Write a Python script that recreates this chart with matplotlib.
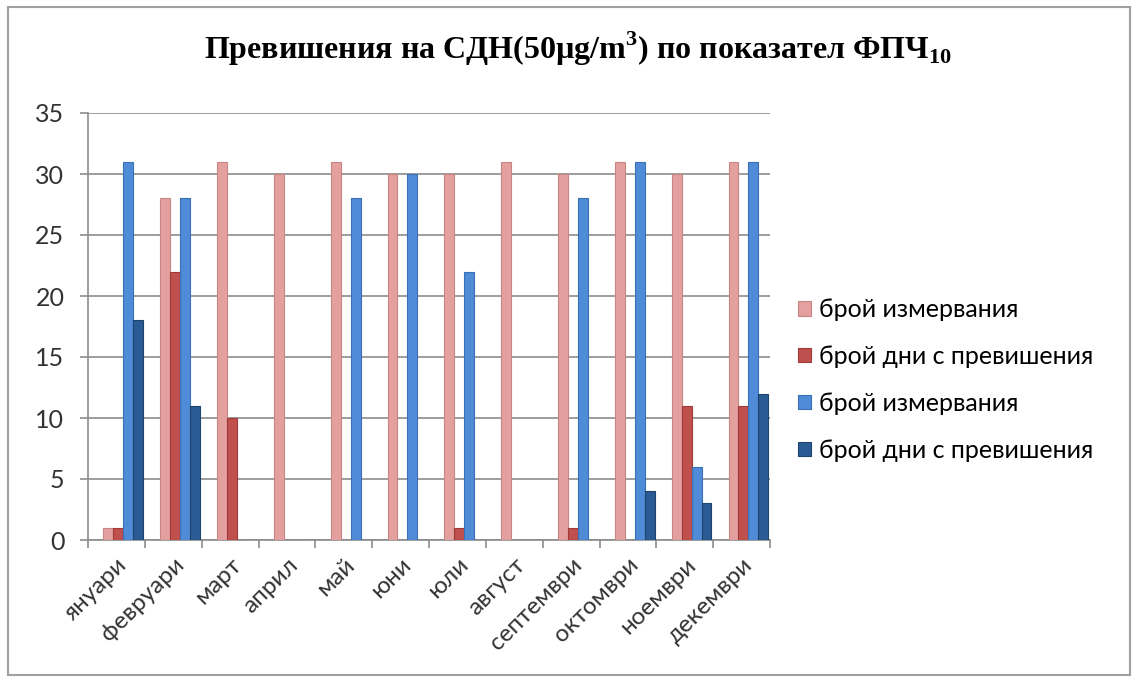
import numpy as np
import matplotlib.pyplot as plt
from matplotlib.patches import Rectangle

plt.rcParams['mathtext.fontset'] = 'custom'
plt.rcParams['mathtext.rm'] = 'Liberation Serif:bold'

months = ['януари', 'февруари', 'март', 'април', 'май', 'юни', 'юли',
          'август', 'септември', 'октомври', 'ноември', 'декември']
labels = ['брой измервания', 'брой дни с превишения',
          'брой измервания', 'брой дни с превишения']

s1 = [1, 28, 31, 30, 31, 30, 30, 31, 30, 31, 30, 31]   # брой измервания (1)
s2 = [1, 22, 10, 0, 0, 0, 1, 0, 1, 0, 11, 11]          # брой дни с превишения (1)
s3 = [31, 28, 0, 0, 28, 30, 22, 0, 28, 31, 6, 31]      # брой измервания (2)
s4 = [18, 11, 0, 0, 0, 0, 0, 0, 0, 4, 3, 12]           # брой дни с превишения (2)

series = [s1, s2, s3, s4]
colors = ['#E3A09E', '#C0504D', '#4F8BD6', '#2B5B94']
edges = ['#C98582', '#9E3A37', '#3A70B5', '#1E436F']

fig = plt.figure(figsize=(11.38, 6.81), dpi=100)
ax = fig.add_axes([88/1138, 141/681, 682/1138, 427/681])

x = np.arange(len(months))
w = 0.175
for i, s in enumerate(series):
    ax.bar(x + (i - 1.5) * w + 0.12, s, width=w, color=colors[i],
           edgecolor=edges[i], linewidth=0.8, label=labels[i], zorder=3)

ax.set_xlim(-0.5, 11.5)
ax.set_ylim(0, 35)
ax.set_yticks(range(0, 36, 5))
ax.yaxis.grid(True, color='#8C8C8C', linewidth=1.2, zorder=0)
ax.set_xticks(np.arange(-0.5, 12, 1))
ax.set_xticklabels([])
ax.set_xticks(x, minor=True)
ax.set_xticklabels(months, minor=True, rotation=45, ha='right',
                   rotation_mode='anchor', fontsize=17.5, family='Lato', color='#333333')
ax.tick_params(axis='x', which='minor', length=0, pad=10)
ax.tick_params(axis='x', which='major', length=6, color='#8C8C8C', width=1.2)
ax.tick_params(axis='y', length=6, color='#8C8C8C', width=1.2, labelsize=18, labelcolor='#333333', pad=11)
for lb in ax.get_yticklabels():
    lb.set_family('Lato')
for side in ['top', 'right']:
    ax.spines[side].set_visible(False)
for side in ['left', 'bottom']:
    ax.spines[side].set_color('#8C8C8C')
    ax.spines[side].set_linewidth(1.2)

fig.text(578/1138, 1 - 49/681, r'Превишения на СДН(50µg/m$^{\mathrm{3}}$) по показател ФПЧ$_{\mathrm{10}}$',
         ha='center', va='center', fontsize=23, family='Liberation Serif', weight='bold')

fig.legend(loc='center left', bbox_to_anchor=(798/1138, 1 - 380/681), frameon=False,
           prop={'family': 'Lato', 'size': 18}, labelspacing=0.95, borderpad=0,
           borderaxespad=0, handlelength=0.5, handleheight=0.5, handletextpad=0.35)

fig.patches.append(Rectangle((8/1138, 6/681), 1122/1138, 668/681, transform=fig.transFigure,
                             fill=False, edgecolor='#A0A0A0', linewidth=1.5))

fig.savefig('out.png', dpi=100)
